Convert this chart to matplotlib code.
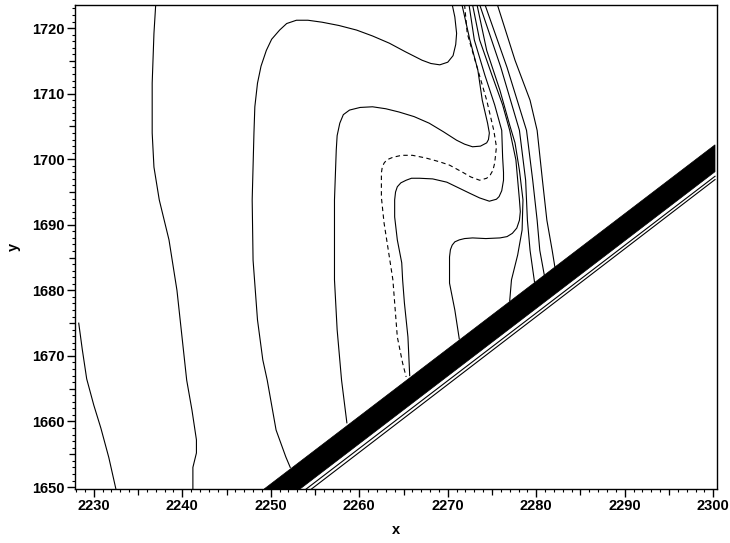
import numpy as np
import matplotlib.pyplot as plt
from matplotlib.ticker import MultipleLocator

# contour lines (data units)
a_x = [2228.3, 2228.7, 2229.2, 2230.0, 2230.8, 2231.7, 2232.5]
a_y = [1675.0, 1671.0, 1666.5, 1662.5, 1659.0, 1654.5, 1649.7]

b_x = [2237.0, 2236.8, 2236.6, 2236.6, 2236.8, 2237.4, 2238.5, 2239.4, 2240.5,
       2241.1, 2241.6, 2241.6, 2241.2, 2241.2]
b_y = [1723.6, 1719.2, 1711.6, 1704.0, 1698.8, 1693.8, 1687.7, 1680.0, 1666.3,
       1661.7, 1657.2, 1655.2, 1653.0, 1649.7]

c_x = [2270.5, 2270.8, 2271.0, 2270.9, 2270.6, 2270.0, 2269.1, 2268.1, 2267.1,
       2265.2, 2263.4, 2261.5, 2259.7, 2257.7, 2255.8, 2254.2, 2252.9, 2251.8,
       2251.0, 2250.1, 2249.5, 2248.9, 2248.5, 2248.2, 2248.1, 2247.9, 2248.0,
       2248.5, 2249.1, 2249.6, 2250.6, 2251.7, 2252.2]
c_y = [1723.6, 1721.7, 1719.2, 1717.5, 1715.8, 1714.8, 1714.4, 1714.6, 1715.1,
       1716.4, 1717.7, 1718.8, 1719.7, 1720.4, 1720.9, 1721.2, 1721.2, 1720.7,
       1719.7, 1718.3, 1716.6, 1714.2, 1711.6, 1708.0, 1704.0, 1693.8, 1684.6,
       1675.5, 1669.4, 1666.3, 1658.7, 1654.6, 1653.0]

d_x = [2271.6, 2272.5, 2273.4, 2273.9, 2274.5, 2274.7, 2274.6, 2274.4, 2273.7,
       2272.8, 2271.9, 2271.0, 2269.5, 2267.9, 2266.2, 2264.5, 2263.0, 2261.5,
       2260.1, 2258.9, 2258.2, 2257.8, 2257.5, 2257.4, 2257.2, 2257.2, 2257.5,
       2258.0, 2258.6]
d_y = [1723.6, 1718.2, 1713.6, 1709.0, 1705.5, 1704.0, 1703.0, 1702.5, 1702.0,
       1701.9, 1702.3, 1702.9, 1704.2, 1705.5, 1706.5, 1707.2, 1707.7, 1708.0,
       1707.9, 1707.5, 1706.8, 1705.5, 1703.6, 1701.4, 1693.8, 1681.6, 1674.0,
       1666.3, 1659.8]

e_x = [2271.9, 2272.2, 2273.3, 2274.4, 2275.2, 2275.5, 2275.4, 2275.3, 2275.1,
       2274.8, 2274.4, 2273.6, 2272.6, 2271.7, 2270.2, 2269.1, 2267.5, 2266.0,
       2264.8, 2263.8, 2263.1, 2262.8, 2262.6, 2262.5, 2262.5, 2262.8, 2263.4,
       2263.8, 2264.0, 2264.3, 2264.9, 2265.3]
e_y = [1723.6, 1719.2, 1714.1, 1709.0, 1704.4, 1701.9, 1700.6, 1699.4, 1698.3,
       1697.6, 1697.1, 1696.8, 1697.3, 1698.0, 1699.1, 1699.6, 1700.2, 1700.6,
       1700.6, 1700.3, 1699.9, 1699.4, 1698.8, 1697.9, 1694.2, 1690.3, 1685.1,
       1681.6, 1678.1, 1672.9, 1668.9, 1666.8]

f_x = [2272.4, 2273.0, 2274.2, 2275.3, 2276.1, 2276.2, 2276.3, 2276.3, 2276.1,
       2275.8, 2275.5, 2274.7, 2273.6, 2272.5, 2269.9, 2268.3, 2266.8, 2265.9,
       2265.3, 2264.7, 2264.3, 2264.1, 2264.0, 2264.0, 2264.3, 2264.8, 2264.9,
       2265.1, 2265.5, 2265.7]
f_y = [1723.6, 1718.2, 1712.8, 1708.3, 1704.4, 1700.3, 1698.0, 1696.8, 1695.2,
       1694.3, 1693.9, 1693.6, 1694.1, 1694.8, 1696.5, 1697.0, 1697.1, 1697.1,
       1696.8, 1696.4, 1695.8, 1695.0, 1693.8, 1691.2, 1687.7, 1684.2, 1681.6,
       1678.1, 1672.9, 1667.0]

g_x = [2272.8, 2273.6, 2275.0, 2276.2, 2277.0, 2277.7, 2278.1, 2278.2, 2278.1,
       2277.8, 2277.3, 2276.7, 2275.9, 2274.3, 2272.8, 2271.9, 2271.3, 2270.8,
       2270.5, 2270.3, 2270.2, 2270.2, 2270.8, 2271.3]
g_y = [1723.6, 1718.2, 1712.8, 1708.3, 1704.4, 1699.9, 1693.8, 1692.0, 1690.7,
       1689.5, 1688.7, 1688.2, 1688.0, 1687.9, 1688.0, 1687.9, 1687.7, 1687.4,
       1686.9, 1686.2, 1685.1, 1681.1, 1677.0, 1672.6]

h_x = [2273.3, 2274.4, 2275.9, 2277.0, 2277.6, 2278.1, 2278.5, 2278.4, 2277.9,
       2277.2, 2277.0]
h_y = [1723.6, 1716.6, 1710.5, 1705.2, 1702.5, 1698.3, 1693.8, 1689.2, 1685.4,
       1681.6, 1678.4]

i_x = [2273.6, 2276.0, 2278.1, 2278.8, 2279.0, 2279.3, 2279.8]
i_y = [1723.6, 1714.0, 1704.4, 1696.8, 1690.7, 1686.1, 1681.3]

j_x = [2274.2, 2276.7, 2278.9, 2279.6, 2280.1, 2280.4, 2280.9]
j_y = [1723.6, 1714.0, 1704.4, 1696.8, 1690.7, 1686.1, 1682.4]

k_x = [2275.6, 2277.6, 2279.3, 2280.1, 2280.7, 2281.2, 2281.8, 2282.1]
k_y = [1723.6, 1715.1, 1709.0, 1704.4, 1696.8, 1690.7, 1686.1, 1683.6]

# dense band of packed contours
band_x = [2249.25, 2300.2]
band_top = [1649.7, 1702.2]
band_bot_x = [2253.3, 2300.2]
band_bot = [1649.7, 1698.1]

# thin lines below the band
l1_x = [2254.0, 2300.2]
l1_y = [1649.7, 1697.4]
l2_x = [2254.6, 2300.2]
l2_y = [1649.7, 1696.9]

xticks = [2230, 2240, 2250, 2260, 2270, 2280, 2290, 2300]
yticks = [1650, 1660, 1670, 1680, 1690, 1700, 1710, 1720]

plt.rcParams['font.family'] = ['Liberation Sans', 'DejaVu Sans']
plt.rcParams['font.weight'] = 'bold'

fig = plt.figure(figsize=(7.3, 5.43), dpi=100)
ax = fig.add_axes([0.103, 0.0994, 0.8795, 0.8923])

lw = 0.8
for xs, ys in [(a_x, a_y), (b_x, b_y), (c_x, c_y), (d_x, d_y), (f_x, f_y),
               (g_x, g_y), (h_x, h_y), (i_x, i_y), (j_x, j_y), (k_x, k_y),
               (l1_x, l1_y), (l2_x, l2_y)]:
    ax.plot(xs, ys, color='black', lw=lw)
ax.plot(e_x, e_y, color='black', lw=lw, linestyle=(0, (4, 3)))

# band polygon
poly_x = band_x + band_bot_x[::-1]
poly_y = band_top + band_bot[::-1]
ax.fill(poly_x, poly_y, color='black', lw=0.5)

ax.set_xlim(2227.9, 2300.45)
ax.set_ylim(1649.7, 1723.6)
ax.set_xticks(xticks)
ax.set_yticks(yticks)
ax.xaxis.set_minor_locator(MultipleLocator(1))
ax.yaxis.set_minor_locator(MultipleLocator(1))
ax.tick_params(which='major', length=5.5, width=1.0, labelsize=10.5, pad=2)
ax.tick_params(which='minor', length=2.5, width=0.8)
for lab in ax.get_xticklabels() + ax.get_yticklabels():
    lab.set_fontweight('bold')
for s in ax.spines.values():
    s.set_linewidth(1.0)

# medium ticks at the fives
mx = [2230 + 5 * k for k in range(-1, 15) if (5 * k) % 10 == 5]
my = [1650 + 5 * k for k in range(0, 15) if (5 * k) % 10 == 5]
sx = ax.secondary_xaxis('bottom')
sx.set_xticks(mx, labels=[])
sx.tick_params(length=4, width=0.9)
sx.spines['bottom'].set_visible(False)
sy = ax.secondary_yaxis('left')
sy.set_yticks(my, labels=[])
sy.tick_params(length=4, width=0.9)
sy.spines['left'].set_visible(False)

ax.set_xlabel('x', fontsize=10.5, fontweight='bold', labelpad=7)
ax.set_ylabel('y', fontsize=10.5, fontweight='bold', labelpad=8)

fig.savefig('out.png', dpi=100)
